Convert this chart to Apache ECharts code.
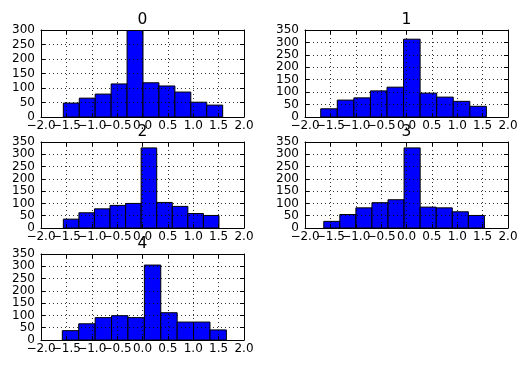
<!DOCTYPE html>
<html>
<head>
<meta charset="utf-8">
<script src="https://cdn.jsdelivr.net/npm/echarts@6/dist/echarts.min.js"></script>
<style>
html,body{margin:0;padding:0;background:#fff;}
#chart{width:528px;height:370px;}
</style>
</head>
<body>
<div id="chart"></div>
<script>
// ---- data ----
const titles = ['0', '1', '2', '3', '4'];
const xTicks = [-2.0, -1.5, -1.0, -0.5, 0.0, 0.5, 1.0, 1.5, 2.0];
const yTicks300 = [0, 50, 100, 150, 200, 250, 300];
const yTicks350 = [0, 50, 100, 150, 200, 250, 300, 350];

const edges0 = [-1.56, -1.246, -0.932, -0.618, -0.304, 0.010, 0.324, 0.638, 0.952, 1.266, 1.58];
const counts0 = [48, 65, 79, 114, 300, 118, 107, 86, 51, 41];
const edges1 = [-1.69, -1.364, -1.037, -0.711, -0.384, -0.058, 0.268, 0.595, 0.921, 1.248, 1.574];
const counts1 = [33, 68, 77, 105, 120, 313, 96, 80, 63, 43];
const edges2 = [-1.56, -1.253, -0.947, -0.640, -0.333, -0.027, 0.280, 0.587, 0.894, 1.200, 1.507];
const counts2 = [36, 62, 78, 92, 100, 326, 104, 88, 59, 51];
const edges3 = [-1.63, -1.314, -0.997, -0.681, -0.364, -0.048, 0.269, 0.586, 0.902, 1.219, 1.535];
const counts3 = [27, 55, 82, 103, 115, 326, 85, 82, 66, 51];
const edges4 = [-1.58, -1.257, -0.933, -0.610, -0.287, 0.037, 0.360, 0.683, 1.006, 1.330, 1.653];
const counts4 = [38, 66, 91, 99, 91, 305, 111, 73, 73, 41];

const allEdges = [edges0, edges1, edges2, edges3, edges4];
const allCounts = [counts0, counts1, counts2, counts3, counts4];
const allYTicks = [yTicks300, yTicks350, yTicks350, yTicks350, yTicks350];

// ---- layout ----
const FONT = 'DejaVu Sans';
const gridBoxes = [
  {left: 41, top: 30, width: 203, height: 87},
  {left: 305, top: 30, width: 203, height: 87},
  {left: 41, top: 142, width: 203, height: 86},
  {left: 305, top: 142, width: 203, height: 86},
  {left: 41, top: 254, width: 203, height: 86}
];

function isWhole(v) { return Math.abs(v - Math.round(v)) < 1e-6; }
function fmtX(v) {
  const s = Math.abs(v).toFixed(1);
  return v < 0 ? '\u2212' + s : s;
}
// tick labels are split over two label-only axes so that the
// overlapping labels (as in the reference) are all drawn
function fmtWhole(v) { return isWhole(v) ? fmtX(v) : ''; }
function fmtHalf(v) { return isWhole(v) ? '' : fmtX(v); }

const grids = [], xAxes = [], yAxes = [], series = [], titleArr = [];
const gridLine = {show: true, lineStyle: {color: '#000', width: 0.8, type: [1, 3]}};
const frame = {show: true, onZero: false, lineStyle: {color: '#000', width: 1}};
const tick = {show: true, inside: true, length: 4, lineStyle: {color: '#000', width: 1}};
const xLabel = {show: true, color: '#000', fontFamily: FONT, fontSize: 12, margin: 3,
  showMinLabel: true, showMaxLabel: true, hideOverlap: false};

gridBoxes.forEach((g, i) => {
  grids.push(Object.assign({containLabel: false}, g));
  const xt = xTicks, yt = allYTicks[i];
  const xBase = {
    type: 'value', gridIndex: i, min: xt[0], max: xt[xt.length - 1],
    interval: xt[1] - xt[0], z: 5
  };
  xAxes.push(Object.assign({}, xBase, {
    position: 'bottom', axisLine: frame, axisTick: tick, splitLine: gridLine,
    axisLabel: Object.assign({}, xLabel, {formatter: fmtWhole})
  }));
  xAxes.push(Object.assign({}, xBase, {
    position: 'top', axisLine: frame, axisTick: tick, splitLine: {show: false},
    axisLabel: {show: false}
  }));
  xAxes.push(Object.assign({}, xBase, {
    position: 'bottom', axisLine: {show: false, onZero: false}, axisTick: {show: false},
    splitLine: {show: false},
    axisLabel: Object.assign({}, xLabel, {formatter: fmtHalf})
  }));
  const yBase = {
    type: 'value', gridIndex: i, min: yt[0], max: yt[yt.length - 1],
    interval: yt[1] - yt[0], z: 5
  };
  yAxes.push(Object.assign({}, yBase, {
    position: 'left', axisLine: frame, axisTick: tick, splitLine: gridLine,
    axisLabel: {show: true, color: '#000', fontFamily: FONT, fontSize: 12, margin: 6,
      showMinLabel: true, showMaxLabel: true, hideOverlap: false}
  }));
  yAxes.push(Object.assign({}, yBase, {
    position: 'right', axisLine: frame, axisTick: tick, splitLine: {show: false},
    axisLabel: {show: false}
  }));

  const edges = allEdges[i], counts = allCounts[i];
  series.push({
    type: 'custom', xAxisIndex: 3 * i, yAxisIndex: 2 * i, z: 1,
    clip: true,
    data: counts.map((c, k) => [edges[k], edges[k + 1], c]),
    renderItem: function (params, api) {
      const p0 = api.coord([api.value(0), 0]);
      const p1 = api.coord([api.value(1), api.value(2)]);
      return {
        type: 'rect',
        shape: {x: p0[0], y: p1[1], width: p1[0] - p0[0], height: p0[1] - p1[1]},
        style: {fill: '#0000ff', stroke: '#000', lineWidth: 1}
      };
    }
  });

  titleArr.push({
    text: titles[i], left: g.left + g.width / 2, top: g.top - 18, textAlign: 'center',
    textStyle: {color: '#000', fontFamily: FONT, fontSize: 15.5, fontWeight: 'normal'},
    padding: 0
  });
});

const chart = echarts.init(document.getElementById('chart'), null, {renderer: 'canvas'});
chart.setOption({
  animation: false,
  backgroundColor: '#fff',
  title: titleArr,
  grid: grids,
  xAxis: xAxes,
  yAxis: yAxes,
  series: series
});
</script>
</body>
</html>
